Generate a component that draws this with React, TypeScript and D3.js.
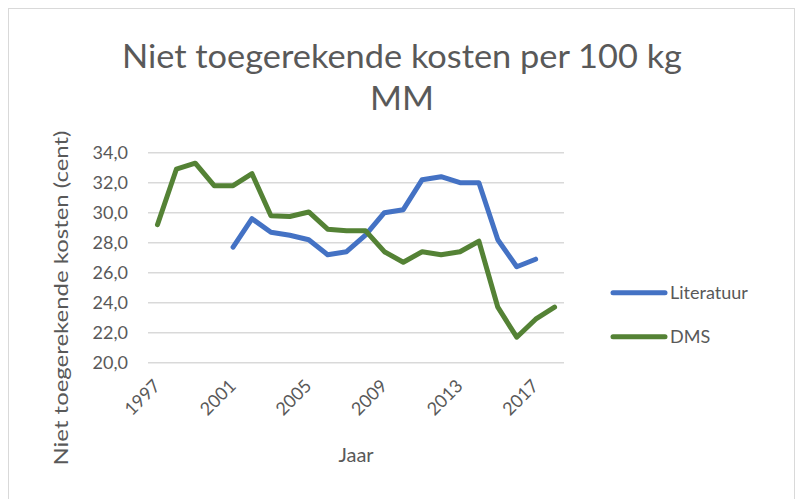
import React from "react";
import * as d3 from "d3";

const years = ["1997","1998","1999","2000","2001","2002","2003","2004","2005","2006","2007","2008","2009","2010","2011","2012","2013","2014","2015","2016","2017","2018"];
const literatuurYears = ["2001","2002","2003","2004","2005","2006","2007","2008","2009","2010","2011","2012","2013","2014","2015","2016","2017"];
const literatuurValues = [27.7,29.6,28.7,28.5,28.2,27.2,27.4,28.5,30.0,30.2,32.2,32.4,32.0,32.0,28.2,26.4,26.9];
const dmsValues = [29.2,32.9,33.3,31.8,31.8,32.6,29.8,29.75,30.05,28.9,28.8,28.8,27.4,26.7,27.4,27.2,27.4,28.1,23.7,21.7,22.9,23.7];
const yTicks = [20,22,24,26,28,30,32,34];
const xTickLabels = ["1997","2001","2005","2009","2013","2017"];
const seriesNames = ["Literatuur","DMS"];
const seriesColors = ["#4472C4","#548235"];

const FONT = "Lato, 'Open Sans', sans-serif";
const TXT = "#595959";

export default function App() {
  const W = 796, H = 499;
  const x = d3.scaleBand<string>().domain(years).range([148, 564]);
  const y = d3.scaleLinear().domain([20, 34]).range([362.7, 152.7]);
  const cx = (yr: string) => (x(yr) as number) + x.bandwidth() / 2;
  const line = d3.line<[string, number]>().x(d => cx(d[0])).y(d => y(d[1]));
  const litData: [string, number][] = literatuurYears.map((yr, i) => [yr, literatuurValues[i]]);
  const dmsData: [string, number][] = years.map((yr, i) => [yr, dmsValues[i]]);
  const fmt = (v: number) => v.toFixed(1).replace(".", ",");

  return (
    <div style={{ position: "absolute", left: 0, top: 0 }}>
      <svg width={W} height={H} style={{ display: "block" }}>
        <rect x={0} y={0} width={W} height={H} fill="#fff" />
        <rect x={8.5} y={8.5} width={786} height={500} fill="#fff" stroke="#d9d9d9" strokeWidth={1} />
        <text x={402} y={68} textAnchor="middle" fontFamily={FONT} fontSize={32} fill={TXT} textLength={560} lengthAdjust="spacingAndGlyphs">Niet toegerekende kosten per 100 kg</text>
        <text x={402} y={110} textAnchor="middle" fontFamily={FONT} fontSize={33} fill={TXT} textLength={64} lengthAdjust="spacingAndGlyphs">MM</text>
        {yTicks.map(t => (
          <g key={t}>
            <line x1={148} x2={564} y1={y(t)} y2={y(t)} stroke="#d9d9d9" strokeWidth={1.5} />
            <text x={128} y={y(t)} dy="0.35em" textAnchor="end" fontFamily={FONT} fontSize={18} fill={TXT}>{fmt(t)}</text>
          </g>
        ))}
        {xTickLabels.map(l => (
          <text key={l} transform={`translate(${cx(l) + 4},${387}) rotate(-45)`} textAnchor="end" fontFamily={FONT} fontSize={18} fill={TXT}>{l}</text>
        ))}
        <text x={356} y={462} textAnchor="middle" fontFamily={FONT} fontSize={20} fill={TXT}>Jaar</text>
        <text transform={`translate(68,298) rotate(-90)`} textAnchor="middle" fontFamily={FONT} fontSize={20} fill={TXT} textLength={335} lengthAdjust="spacingAndGlyphs">Niet toegerekende kosten (cent)</text>
        <path d={line(litData) || ""} fill="none" stroke={seriesColors[0]} strokeWidth={5} strokeLinejoin="round" strokeLinecap="round" />
        <path d={line(dmsData) || ""} fill="none" stroke={seriesColors[1]} strokeWidth={5} strokeLinejoin="round" strokeLinecap="round" />
        {seriesNames.map((n, i) => (
          <g key={n}>
            <line x1={613} x2={665} y1={292.7 + i * 44} y2={292.7 + i * 44} stroke={seriesColors[i]} strokeWidth={5} strokeLinecap="round" />
            <text x={670} y={292.7 + i * 44} dy="0.35em" fontFamily={FONT} fontSize={18} fill={TXT}>{n}</text>
          </g>
        ))}
      </svg>
    </div>
  );
}
